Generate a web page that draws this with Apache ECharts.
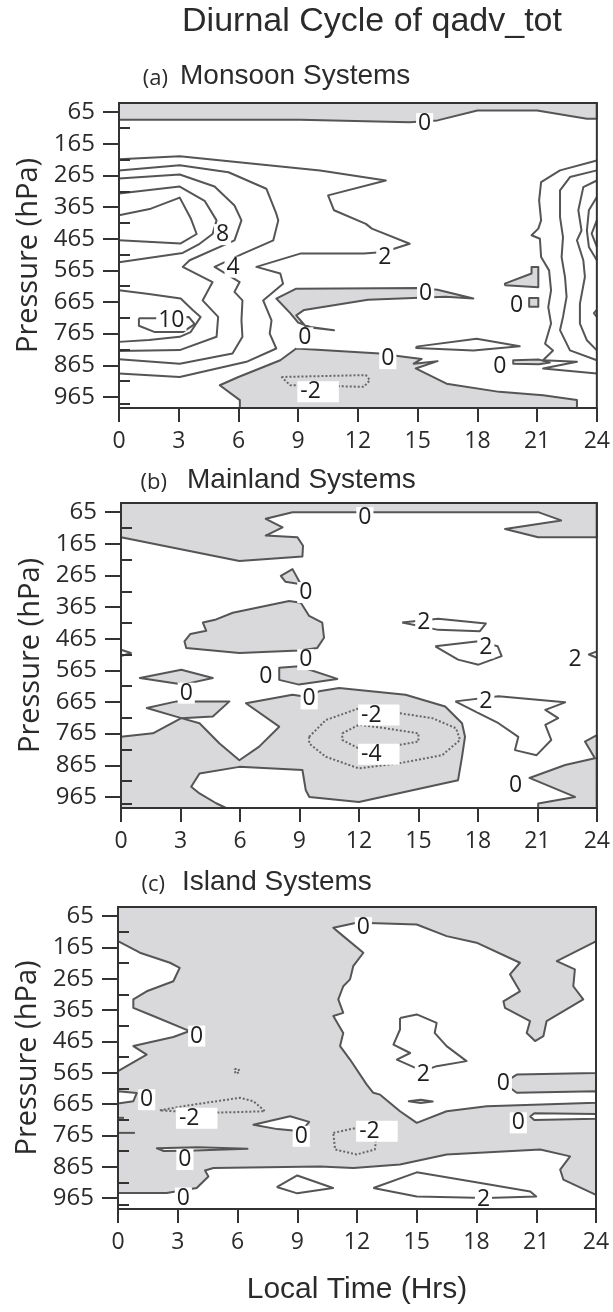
<!DOCTYPE html>
<html><head><meta charset="utf-8">
<script src="https://cdn.jsdelivr.net/npm/echarts@6/dist/echarts.min.js"></script>
<style>html,body{margin:0;padding:0;background:#fff}#c{width:613px;height:1312px}</style>
</head><body><div id="c"></div><script>
// ---------- axes / ticks ----------
const hourTicks = [0, 3, 6, 9, 12, 15, 18, 21, 24];
const pressureLabels = [65, 165, 265, 365, 465, 565, 665, 765, 865, 965];
const pressureMinor = [115, 215, 315, 415, 515, 615, 715, 815, 915, 985];
const P_TOP = 36, P_BOTTOM = 1000;
const mainTitle = 'Diurnal Cycle of qadv_tot';
const panelTags = ['(a)', '(b)', '(c)'];
const panelNames = ['Monsoon Systems', 'Mainland Systems', 'Island Systems'];
const xName = 'Local Time (Hrs)';
const yName = 'Pressure (hPa)';

// ---------- (a) Monsoon: negative (shaded) regions [hour, hPa] ----------
const negA_top = [[0,36],[24,36],[24,86],[23.5,86],[21,60],[18,60],[16,91],[14.6,97],[9.1,89],[0,89]];
const negA_mid = [[7.9,654],[8.9,623],[15.1,621],[16.0,626],[17.8,654],[16.4,648],[12.5,658],[9.3,690],[8.9,707],[9.4,744],[10.8,754],[9.6,744],[9.0,730],[8.6,700]];
const negA_bot = [[6.07,1000],[6.07,975],[5.06,928],[6.0,902],[8.1,849],[8.9,812],[13.1,828],[14.3,838],[15.2,845],[14.8,860],[16.0,852],[14.9,875],[16.45,923],[19.1,949],[21.3,960],[23.0,975],[23.0,1000]];
const negA_tri = [[19.38,607],[20.72,575],[20.72,554],[21.06,554],[21.06,618],[19.4,612]];
const negA_box = [[20.6,652],[21.06,652],[21.06,680],[20.6,680]];
const negA_sliver = [[19.8,849],[21.1,847],[21.64,856],[21.1,862],[19.8,860]];
// positive contours (2,4,6,8,10)
const posA_2 = [[0,214],[3.05,204],[10.1,249],[13.4,281],[10.5,328],[10.8,375],[12.4,418],[12.7,433],[14.6,481],[13.3,507],[12.3,512],[9.1,512],[6.9,554],[8.1,575],[8.24,607],[7.24,660],[7.66,723],[7.57,765],[7.9,812],[6.4,854],[3.05,902],[0,891]];
const posA_4 = [[0,249],[3.05,233],[5.5,255],[7.4,307],[7.9,386],[8.0,407],[7.75,470],[6.23,512],[4.8,554],[6.06,602],[5.8,633],[6.2,660],[6.15,723],[6.2,775],[5.7,828],[3.05,860],[0,846]];
const posA_6 = [[0,275],[3.05,262],[4.8,300],[5.8,360],[6.15,407],[5.8,470],[3.55,533],[3.2,554],[4.7,602],[4.2,660],[4.98,712],[4.9,775],[3.05,817],[0,820]];
const posA_8u = [[0,322],[3.05,300],[4.3,345],[4.9,407],[4.7,450],[4.05,481],[3.2,510],[0,539]];
const posA_10u = [[0,391],[1.6,370],[3.05,335],[3.6,400],[3.9,450],[3.1,480],[0,470]];
const posA_8l = [[0,628],[1.5,640],[3.1,654],[3.7,690],[4.1,712],[3.6,760],[3.05,775],[1.5,785],[0,791]];
const posA_10l = [[1.0,716],[2.6,716],[3.5,712],[3.8,735],[3.2,760],[1.8,760],[1.0,740],[1.0,716]];
const posA_r1 = [[24,218],[22.15,249],[21.2,286],[21.1,344],[21.2,407],[21.06,433],[20.72,454],[21.14,465],[21.2,523],[21.6,565],[21.7,628],[21.56,681],[21.7,733],[21.4,797],[21.8,818],[21.3,849],[23.0,854],[21.3,875],[24,891]];
const posA_r2 = [[24,249],[22.65,270],[22.15,312],[22.15,397],[22.3,460],[22.23,523],[22.4,586],[22.48,649],[22.3,712],[22.15,754],[22.65,818],[24,849]];
const posA_r3 = [[24,281],[23.32,302],[23.07,375],[23.23,439],[23.0,470],[23.32,533],[23.4,586],[23.15,670],[23.15,733],[23.5,786],[24,818]];
const posA_r4 = [[24,333],[23.6,375],[23.5,439],[23.6,491],[24,533]];
const posA_r5 = [[24,407],[23.74,449],[24,491]];
const posA_r6 = [[24,690],[23.85,700],[24,712]];
const posA_loop = [[14.93,806],[17.96,781],[20.13,805],[17.8,818],[14.93,810],[14.93,806]];
const dotA_m2 = [[8.16,902],[12.4,896],[12.6,912],[12.3,933],[8.6,928],[8.16,902]];
const labelsA = [['0',15.35,101],['0',15.4,637],['0',9.33,778],['0',13.5,844],['0',19.97,675],['0',19.13,868],
  ['2',13.35,523],['4',5.73,555],['8',5.2,452],['10',2.63,723],['-2',10.0,949]];

// ---------- (b) Mainland ----------
const negB_top = [[0,36],[24,36],[24,144],[21.04,144],[19.37,118],[22.2,91],[21.04,65],[8.65,65],[7.3,86],[8.15,113],[7.3,139],[8.9,144],[9.18,171],[9.15,205],[5.97,219],[0,144]];
const negB_small = [[8.06,266],[8.65,245],[9.07,293],[8.3,285]];
const negB_mid = [[3.2,473],[3.5,450],[4.3,440],[4.13,414],[4.8,404],[5.64,383],[8.48,346],[9.07,351],[9.49,393],[10.15,414],[10.24,462],[9.9,494],[8.98,502],[5.97,510],[3.29,494]];
const negB_wedge = [[7.98,557],[8.98,552],[10.91,592],[8.98,610],[7.98,595]];
const negB_dia1 = [[0.95,589],[3.04,563],[4.63,589],[3.12,610]];
const negB_dia2 = [[1.3,684],[2.8,663],[5.47,663],[4.63,711],[3.04,716]];
const negB_big = [[0,775],[1.61,764],[3.04,716],[3.96,732],[4.97,796],[5.97,849],[6.97,806],[7.98,743],[6.3,669],[8.65,642],[9.49,650],[9.99,631],[11.0,621],[14.35,642],[16.35,679],[17.2,732],[17.35,775],[17.2,838],[17.0,912],[12.0,981],[9.5,965],[9.32,944],[9.15,880],[5.97,870],[3.96,891],[3.54,933],[3.96,954],[4.8,985],[5.3,1000],[0,1000]];
const negB_br = [[24,770],[23.4,790],[23.9,843],[22.4,864],[20.6,905],[22.9,965],[21.04,986],[21.04,1000],[24,1000]];
const posB_1 = [[14.18,414],[16.0,402],[18.4,417],[18.1,441],[16.0,437],[14.18,414]];
const posB_2 = [[15.85,489],[18.03,473],[19.0,489],[19.2,520],[18.03,547],[17.0,531],[15.85,489]];
const posB_3 = [[16.86,663],[19.04,647],[22.4,666],[21.4,690],[22.05,716],[21.4,737],[21.7,785],[20.96,833],[19.87,817],[20.04,775],[19.04,732],[18.03,700],[16.86,663]];
const posB_l = [[0,500],[0.5,510],[0,520]];
const posB_r = [[24,505],[23.6,515],[24,525]];
const dotB_m2 = [[9.49,775],[10.33,722],[12.0,685],[14.0,700],[15.7,716],[16.9,748],[17.1,785],[16.2,833],[14.0,859],[12.0,875],[10.33,838],[9.49,796],[9.49,775]];
const dotB_m4 = [[11.16,764],[12.0,737],[13.34,748],[15.0,764],[15.0,790],[14.0,801],[12.0,812],[11.16,785],[11.16,764]];
const labelsB = [['0',12.3,82],['0',9.32,319],['0',9.32,531],['0',7.31,584],['0',3.29,637],['0',9.49,655],
  ['-2',13.0,706],['-4',13.0,830],['2',15.27,414],['2',18.4,494],['2',18.4,663],['2',22.9,531],['0',19.9,930]];

// ---------- (c) Island: shaded background, positive (white) regions ----------
const posC_left = [[0,145],[1.1,182],[2.61,214],[3.1,230],[2.78,273],[1.44,305],[0.77,331],[0.77,358],[1.77,384],[3.6,432],[2.78,451],[0.77,480],[1.44,507],[0,560]];
const posC_leftSmall = [[0,624],[0.94,630],[0.77,656],[0,663]];
const posC_big = [[10.81,102],[11.98,86],[12.99,88],[15.0,92],[16.5,129],[18.0,150],[20.18,214],[19.68,251],[20.18,305],[19.35,337],[19.43,358],[20.69,400],[20.52,438],[20.94,464],[21.36,448],[21.52,400],[23.36,331],[22.86,289],[22.94,235],[22.03,209],[23.87,150],[24,145],[24,566],[20.02,571],[19.35,598],[20.02,629],[24,624],[24,661],[18.51,672],[16.5,688],[15.0,725],[14.16,688],[13.16,635],[12.82,629],[12.49,603],[11.65,523],[11.15,480],[11.31,438],[10.81,384],[11.31,374],[11.06,331],[11.31,289],[11.65,267],[11.81,225],[12.32,182],[11.31,129]];
const posC_rwedge = [[24,697],[20.9,694],[20.7,705],[20.9,716],[24,712]];
const posC_w1 = [[1.95,806],[4.0,803],[6.5,808],[3.5,814],[2.3,815]];
const posC_w2 = [[6.8,731],[8.64,704],[9.6,722],[9.2,752],[8.0,745]];
const posC_bot = [[0,949],[2.44,949],[3.95,933],[4.54,896],[4.37,877],[4.79,869],[10.14,864],[11.82,869],[14.16,858],[16.5,826],[21.2,810],[22.7,832],[22.2,874],[22.36,906],[24,955],[24,1000],[0,1000]];
const negC_tiny = [[14.6,656],[15.2,651],[15.8,657],[15.2,662]];
const posC_2a = [[14.16,390],[15.0,379],[16.0,406],[15.9,438],[16.5,480],[17.5,528],[16.0,544],[15.3,560],[14.0,523],[14.67,502],[13.83,475],[14.16,427],[14.16,390]];
const posC_2b = [[7.97,930],[9.0,893],[10.8,933],[9.0,950],[7.97,930]];
const posC_2c = [[12.82,933],[15.0,883],[18.2,917],[20.7,944],[21.0,960],[18.5,965],[15.0,960],[12.82,933]];
const posC_t1 = [[0,709],[0.3,709]];
const posC_t2 = [[0,757],[0.85,757]];
const dotC_1 = [[2.1,685],[3.45,670],[6.13,645],[6.8,656],[7.38,688],[5.8,691],[4.1,693],[2.1,685]];
const dotC_2 = [[5.85,553],[6.05,553],[6.1,563],[5.9,568],[5.85,553]];
const dotC_3 = [[10.81,757],[11.98,741],[12.99,757],[12.9,810],[11.98,826],[10.9,810],[10.81,757]];
const labelsC = [['0',3.95,448],['0',1.44,651],['-2',3.95,710],['0',3.36,842],['0',3.28,965],['0',9.2,768],
  ['-2',13.0,752],['0',12.32,102],['2',15.33,572],['0',19.35,598],['0',20.1,725],['2',18.35,970]];

// ---------- styling ----------
const GRAY = '#d9d9db', LINE = '#555556', DOT = '#666667', TEXT = '#2b2b2b';
const grids = [
  {left: 119, right: 16, top: 103, height: 305},
  {left: 121, right: 15, top: 503, height: 305},
  {left: 118, right: 17, top: 907, height: 302}
];
const titleY = [76, 480, 882];

function polySeries(gi, polys, fill, stroke) {
  return {
    type: 'custom', xAxisIndex: gi, yAxisIndex: gi * 2, silent: true, animation: false, z: 1,
    data: polys.map(p => p[0]),
    renderItem(params, api) {
      const pts = polys[params.dataIndex].map(q => api.coord(q));
      return {type: 'polygon', shape: {points: pts},
        style: {fill: fill, stroke: stroke ? LINE : null, lineWidth: 2, lineJoin: 'round'}};
    }
  };
}
function lineSeries(gi, pts, dotted) {
  return {
    type: 'line', xAxisIndex: gi, yAxisIndex: gi * 2, data: pts, symbol: 'none', silent: true,
    animation: false, z: 3,
    lineStyle: dotted ? {color: DOT, width: 2, type: [2, 2]} : {color: LINE, width: 2, join: 'round'}
  };
}
function labelSeries(gi, labels) {
  return {
    type: 'scatter', xAxisIndex: gi, yAxisIndex: gi * 2, symbolSize: 1, silent: true, animation: false, z: 5,
    itemStyle: {color: 'rgba(0,0,0,0)', opacity: 1},
    data: labels.map(l => ({value: [l[1], l[2]], name: l[0],
      label: l[0].charAt(0) === '-' ? {padding: [1, 18, 0, 3]} : {}})),
    label: {show: true, position: 'inside', formatter: p => p.name, fontSize: 23, opacity: 1,
      fontFamily: 'Open Sans', color: '#1e1e1e', backgroundColor: '#ffffff', padding: [1, 2, 0, 2], lineHeight: 20}
  };
}

const fullRect = [[0, P_TOP], [24, P_TOP], [24, P_BOTTOM], [0, P_BOTTOM]];
const series = [
  // (a)
  polySeries(0, [negA_top, negA_mid, negA_bot, negA_tri, negA_box, negA_sliver], GRAY, true),
  ...[posA_2, posA_4, posA_6, posA_8u, posA_10u, posA_8l, posA_10l, posA_r1, posA_r2, posA_r3, posA_r4, posA_r5, posA_r6, posA_loop].map(p => lineSeries(0, p, false)),
  lineSeries(0, dotA_m2, true),
  labelSeries(0, labelsA),
  // (b)
  polySeries(1, [negB_top, negB_small, negB_mid, negB_wedge, negB_dia1, negB_dia2, negB_big, negB_br], GRAY, true),
  ...[posB_1, posB_2, posB_3, posB_l, posB_r].map(p => lineSeries(1, p, false)),
  lineSeries(1, dotB_m2, true), lineSeries(1, dotB_m4, true),
  labelSeries(1, labelsB),
  // (c)
  polySeries(2, [fullRect], GRAY, false),
  polySeries(2, [posC_left, posC_leftSmall, posC_big, posC_rwedge, posC_w1, posC_w2, posC_bot], '#ffffff', true),
  polySeries(2, [negC_tiny], GRAY, true),
  ...[posC_2a, posC_2b, posC_2c, posC_t1, posC_t2].map(p => lineSeries(2, p, false)),
  ...[dotC_1, dotC_2, dotC_3].map(p => lineSeries(2, p, true)),
  labelSeries(2, labelsC)
];

const xAxes = grids.map((g, i) => ({
  gridIndex: i, type: 'value', min: hourTicks[0], max: hourTicks[hourTicks.length - 1], interval: 3, z: 10,
  axisLine: {show: true, onZero: false, lineStyle: {color: '#333', width: 2}},
  axisTick: {show: true, length: 14, lineStyle: {color: '#333', width: 2}},
  axisLabel: {fontSize: 23, color: TEXT, fontFamily: 'Open Sans', margin: 22},
  splitLine: {show: false}
}));
const yAxes = [];
grids.forEach((g, i) => {
  yAxes.push({
    gridIndex: i, type: 'value', inverse: true, min: P_TOP, max: P_BOTTOM, z: 10,
    name: yName, nameLocation: 'middle', nameRotate: 90, nameGap: 76,
    nameTextStyle: {fontSize: 29, color: TEXT, fontFamily: 'Open Sans'},
    axisLine: {show: true, onZero: false, lineStyle: {color: '#333', width: 2}},
    axisTick: {show: true, length: 16, customValues: pressureLabels, lineStyle: {color: '#333', width: 2}},
    axisLabel: {show: true, customValues: pressureLabels, fontSize: 24, color: TEXT, fontFamily: 'Open Sans', margin: 24},
    splitLine: {show: false}
  });
  yAxes.push({
    gridIndex: i, type: 'value', inverse: true, min: P_TOP, max: P_BOTTOM, z: 10,
    axisLine: {show: false},
    axisTick: {show: true, length: 11, customValues: pressureMinor, lineStyle: {color: '#333', width: 2}},
    axisLabel: {show: false}, splitLine: {show: false}
  });
});

const graphic = [
  {type: 'text', x: 372, y: 22, style: {text: mainTitle, font: '34px "Liberation Sans", Arial', fill: TEXT,
    textAlign: 'center', align: 'center', textVerticalAlign: 'middle', verticalAlign: 'middle'}},
  {type: 'text', x: 357, y: 1290, style: {text: xName, font: '30px "Liberation Sans", Arial', fill: TEXT,
    textAlign: 'center', align: 'center', textVerticalAlign: 'middle', verticalAlign: 'middle'}}
];
const tagRight = [168, 167, 165], nameLeft = [180, 187, 182];
panelTags.forEach((t, i) => {
  graphic.push({type: 'text', x: tagRight[i], y: titleY[i] + 3, style: {text: t, font: '22px "Open Sans"', fill: TEXT,
    textAlign: 'right', align: 'right', textVerticalAlign: 'middle', verticalAlign: 'middle'}});
  graphic.push({type: 'text', x: nameLeft[i], y: titleY[i], style: {text: panelNames[i], font: '28px "Liberation Sans", Arial', fill: TEXT,
    textAlign: 'left', align: 'left', textVerticalAlign: 'middle', verticalAlign: 'middle'}});
});

const chart = echarts.init(document.getElementById('c'), null, {renderer: 'canvas'});
chart.setOption({
  animation: false,
  backgroundColor: '#ffffff',
  grid: grids.map(g => Object.assign({show: true, borderColor: '#333', borderWidth: 2, backgroundColor: 'transparent', z: 10}, g)),
  xAxis: xAxes,
  yAxis: yAxes,
  graphic: graphic,
  series: series
});
</script></body></html>
